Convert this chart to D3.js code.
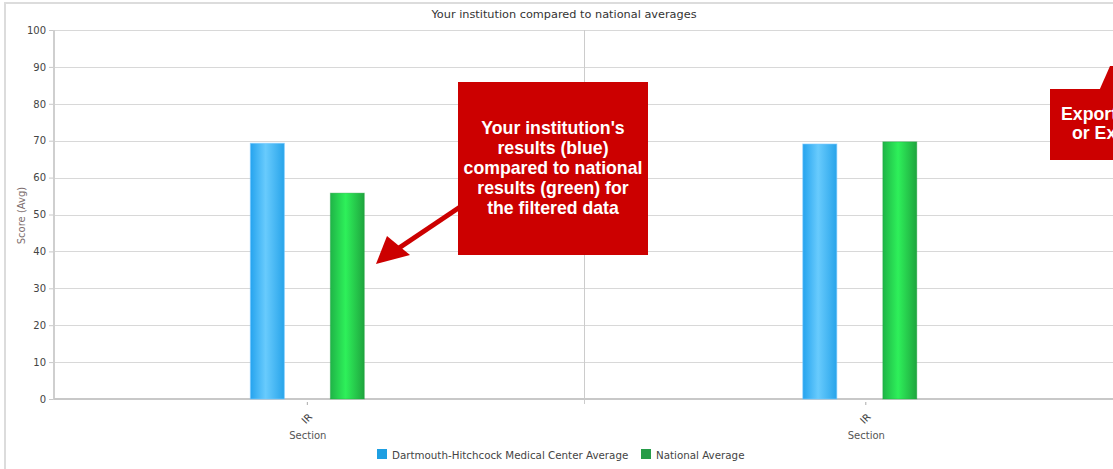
<!DOCTYPE html>
<html>
<head>
<meta charset="utf-8">
<script src="https://cdn.jsdelivr.net/npm/d3@7"></script>
<style>
  body { margin: 0; background: #fff; }
  svg { display: block; font-family: "DejaVu Sans", Verdana, sans-serif; }
  .tick text { fill: #444; }
</style>
</head>
<body>
<div id="chart"></div>
<script>
var panels = ["left", "right"],
categories = ["IR", "IR"],
seriesNames = ["Dartmouth-Hitchcock Medical Center Average", "National Average"],
institutionValues = [69.3, 69.1],
nationalValues = [55.8, 69.7],
yTicks = [0, 10, 20, 30, 40, 50, 60, 70, 80, 90, 100],
legendColors = ["#1e9fe2", "#269c48"];

var width = 1113,
height = 469,
plotLeft = 54,
plotTop = 30,
plotBottom = 399,
panelEdges = [54, 584, 1161],
labelShift = [0, 6];

var svg = d3.select("#chart").append("svg")
.attr("width", width)
.attr("height", height);

var defs = svg.append("defs");

// bar gradients
function barGradient(id, edge, mid, edge2){
  var g = defs.append("linearGradient").attr("id", id)
  .attr("x1", "0%").attr("x2", "100%").attr("y1", "0%").attr("y2", "0%");
  g.append("stop").attr("offset", "0%").attr("stop-color", edge);
  g.append("stop").attr("offset", "45%").attr("stop-color", mid);
  g.append("stop").attr("offset", "100%").attr("stop-color", edge2);
}
barGradient("gradBlue", "#25a3ee", "#68cbfd", "#28a4ea");
barGradient("gradGreen", "#1fb447", "#2ef05a", "#1fa53e");

// outer frame
svg.append("path")
.attr("d", "M5," + height + "V3H" + width)
.attr("fill", "none")
.attr("stroke", "#dcdcdc")
.attr("stroke-width", 2);

// title
svg.append("text")
.attr("x", 564)
.attr("y", 18)
.attr("text-anchor", "middle")
.attr("font-size", "11.3px")
.attr("fill", "#333")
.text("Your institution compared to national averages");

var y = d3.scaleLinear().domain([0, 100]).range([plotBottom, plotTop]);

// gridlines
svg.append("g").selectAll("line")
.data(yTicks)
.enter()
.append("line")
.attr("x1", plotLeft)
.attr("x2", width)
.attr("y1", function(d){ return Math.round(y(d)) + 0.5; })
.attr("y2", function(d){ return Math.round(y(d)) + 0.5; })
.attr("stroke", "#d8d8d8");

// y axis
var yAxis = svg.append("g")
.attr("transform", "translate(" + plotLeft + ",0)")
.call(d3.axisLeft(y).tickValues(yTicks).tickSize(5).tickPadding(3));
yAxis.select(".domain").remove();
yAxis.selectAll(".tick line").attr("stroke", "#c8c8c8");
yAxis.selectAll(".tick text").attr("font-size", "10px").attr("font-family", "DejaVu Sans, Verdana, sans-serif");

svg.append("line")
.attr("x1", plotLeft).attr("x2", plotLeft)
.attr("y1", plotTop).attr("y2", plotBottom + 1)
.attr("stroke", "#cfcfcf").attr("stroke-width", 2);

svg.append("text")
.attr("transform", "translate(25," + ((plotTop + plotBottom) / 2 + 1) + ") rotate(-90)")
.attr("text-anchor", "middle")
.attr("font-size", "10px")
.attr("fill", "#7d6e6e")
.text("Score (Avg)");

// panel separator
svg.append("line")
.attr("x1", panelEdges[1] + 0.5).attr("x2", panelEdges[1] + 0.5)
.attr("y1", plotTop).attr("y2", plotBottom + 5)
.attr("stroke", "#cccccc");

// x axis line
svg.append("line")
.attr("x1", plotLeft).attr("x2", width)
.attr("y1", plotBottom).attr("y2", plotBottom)
.attr("stroke", "#c8c8c8").attr("stroke-width", 2);

// bars, one group per panel
var rows = panels.map(function(p, i){
  return {panel: p, category: categories[i], values: [institutionValues[i], nationalValues[i]], shift: labelShift[i]};
});

var inner = d3.scaleBand().domain(seriesNames).range([0, 114]).paddingInner(0.575);
var fills = ["url(#gradBlue)", "url(#gradGreen)"];

var panelG = svg.selectAll(".panel")
.data(rows)
.enter()
.append("g")
.attr("class", "panel")
.attr("transform", function(d, i){
  var w = panelEdges[i + 1] - panelEdges[i];
  return "translate(" + (panelEdges[i] + w * 0.478 - 57) + ",0)";
});

panelG.selectAll("rect")
.data(function(d){ return d.values; })
.enter()
.append("rect")
.attr("x", function(d, i){ return inner(seriesNames[i]); })
.attr("width", inner.bandwidth())
.attr("y", function(d){ return y(d); })
.attr("height", function(d){ return plotBottom - y(d); })
.attr("fill", function(d, i){ return fills[i]; })
.attr("stroke", function(d, i){ return i ? "rgba(30,160,60,0.35)" : "rgba(120,200,255,0.6)"; })
.attr("stroke-width", 1);

// category ticks and labels
panelG.append("line")
.attr("x1", function(d){ return 57 + d.shift; })
.attr("x2", function(d){ return 57 + d.shift; })
.attr("y1", plotBottom + 3).attr("y2", plotBottom + 6)
.attr("stroke", "#aaa");

panelG.append("text")
.attr("transform", function(d){ return "translate(" + (59 + d.shift) + "," + (plotBottom + 22) + ") rotate(-45)"; })
.attr("text-anchor", "middle")
.attr("font-size", "10px")
.attr("fill", "#444")
.text(function(d){ return d.category; });

panelG.append("text")
.attr("x", function(d){ return 57.5 + d.shift; })
.attr("y", plotBottom + 40)
.attr("text-anchor", "middle")
.attr("font-size", "10px")
.attr("fill", "#555")
.text("Section");

// legend
var legend = svg.append("g").attr("transform", "translate(377,449)");
var legendX = [0, 264];
var item = legend.selectAll("g")
.data(seriesNames)
.enter()
.append("g")
.attr("transform", function(d, i){ return "translate(" + legendX[i] + ",0)"; });
item.append("rect")
.attr("width", 10).attr("height", 10)
.attr("fill", function(d, i){ return legendColors[i]; });
item.append("text")
.attr("x", 15).attr("y", 9.5)
.attr("font-size", "10.3px")
.attr("fill", "#444")
.text(function(d){ return d; });

// annotation callouts
var red = "#cc0000";
var note = svg.append("g").attr("class", "note");
note.append("line")
.attr("x1", 460).attr("y1", 207)
.attr("x2", 396).attr("y2", 250)
.attr("stroke", red).attr("stroke-width", 5);
note.append("polygon")
.attr("points", "376,264 387,236 410,255")
.attr("fill", red);
note.append("rect")
.attr("x", 458).attr("y", 82).attr("width", 190).attr("height", 173)
.attr("fill", red);
var noteLines = ["Your institution's", "results (blue)", "compared to national", "results (green) for", "the filtered data"];
note.append("text")
.attr("text-anchor", "middle")
.attr("font-family", "Liberation Sans, Arial, sans-serif")
.attr("font-weight", "bold")
.attr("font-size", "17.7px")
.attr("fill", "#fff")
.selectAll("tspan")
.data(noteLines)
.enter()
.append("tspan")
.attr("x", 553)
.attr("y", function(d, i){ return 134 + i * 20; })
.text(function(d){ return d; });

var note2 = svg.append("g");
note2.append("polygon")
.attr("points", "1099,91 1110,66 1116,66 1116,91")
.attr("fill", red);
note2.append("rect")
.attr("x", 1050).attr("y", 89).attr("width", 80).attr("height", 71)
.attr("fill", red);
note2.append("text")
.attr("font-family", "Liberation Sans, Arial, sans-serif")
.attr("font-weight", "bold")
.attr("font-size", "17.7px")
.attr("fill", "#fff")
.selectAll("tspan")
.data(["Export to PDF", "or Excel"])
.enter()
.append("tspan")
.attr("x", function(d, i){ return i ? 1072 : 1061; })
.attr("y", function(d, i){ return 120 + i * 19; })
.text(function(d){ return d; });
</script>
</body>
</html>
